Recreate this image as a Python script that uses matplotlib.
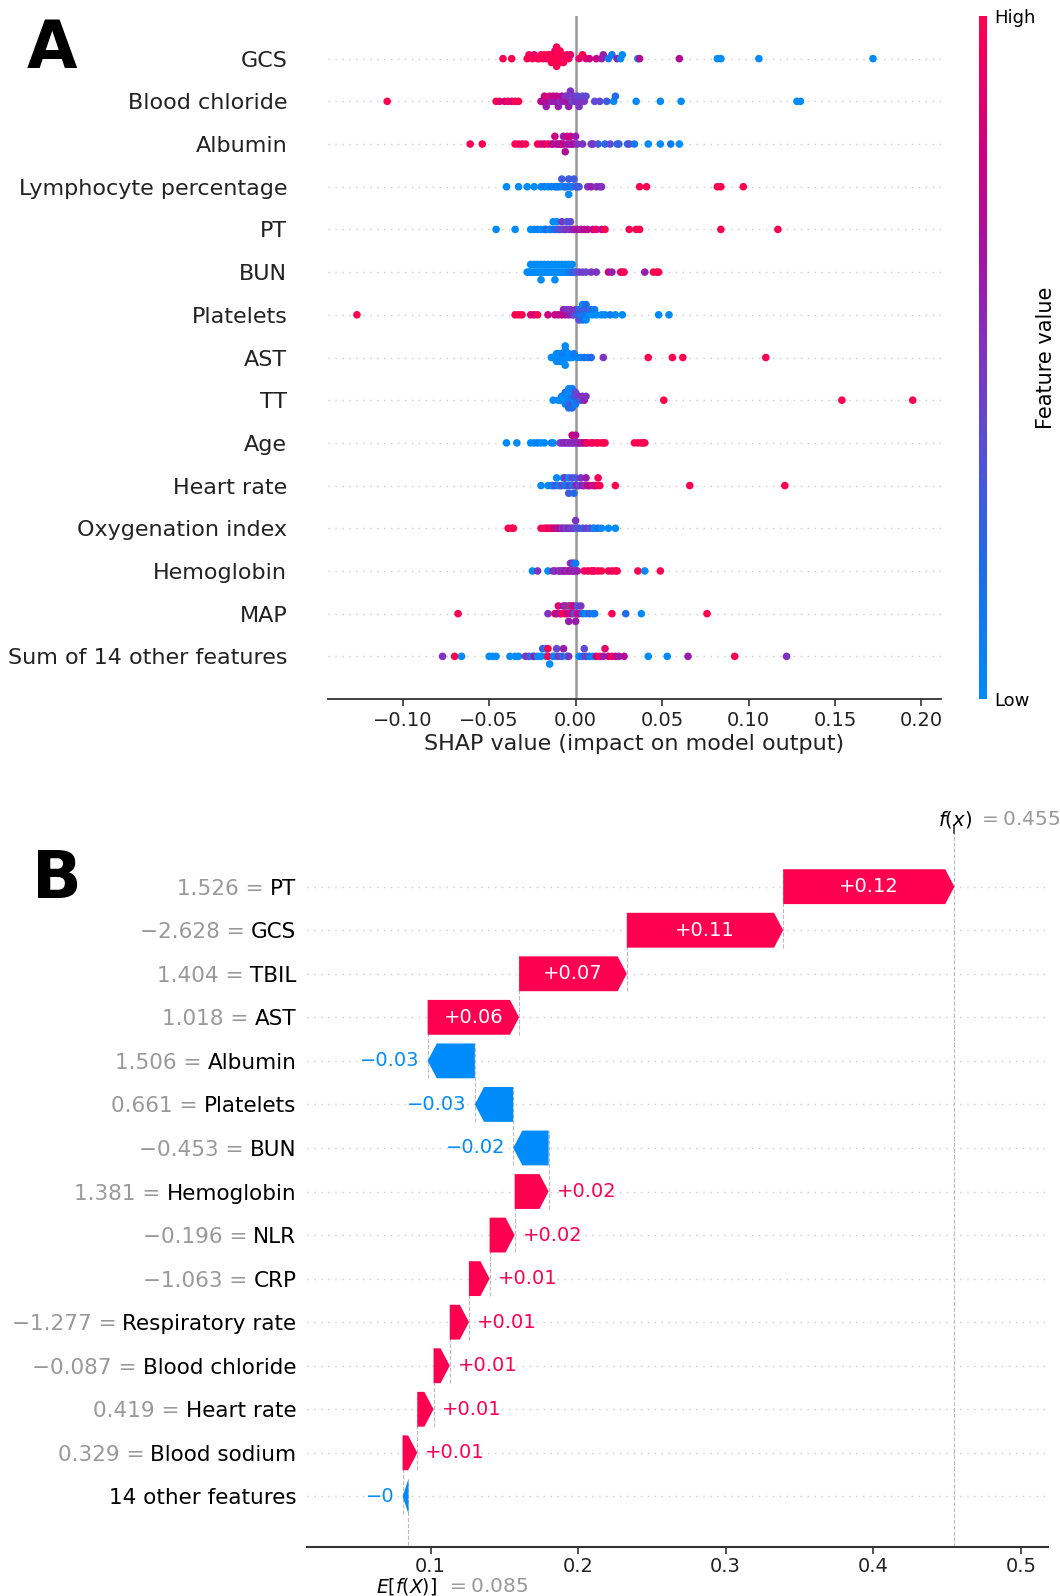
import re
import numpy as np
import matplotlib
matplotlib.use("Agg")
import matplotlib.pyplot as plt
import matplotlib.transforms as mtransforms
from matplotlib.colors import LinearSegmentedColormap
from matplotlib.patches import Polygon

# ---------------- panel A data: (shap value, feature value 0=low 1=high) ----------------
features_a = ["GCS", "Blood chloride", "Albumin", "Lymphocyte percentage", "PT", "BUN",
              "Platelets", "AST", "TT", "Age", "Heart rate", "Oxygenation index",
              "Hemoglobin", "MAP", "Sum of 14 other features"]

gcs_pts = [(-0.042, 1), (-0.037, 1), (-0.028, 1), (-0.027, 1), (-0.025, 1), (-0.024, .9), (-0.022, 1),
           (-0.021, 1), (-0.020, 1), (-0.019, 1), (-0.018, 1), (-0.017, .9), (-0.016, 1), (-0.015, 1),
           (-0.015, 1), (-0.014, 1), (-0.013, 1), (-0.013, 1), (-0.012, 1), (-0.012, .9), (-0.011, 1),
           (-0.011, 1), (-0.010, 1), (-0.010, 1), (-0.009, 1), (-0.009, 1), (-0.008, 1), (-0.008, 1),
           (-0.007, 1), (-0.006, .9), (-0.005, 1), (-0.004, 1), (-0.003, .9), (0.002, .9), (0.004, 1),
           (0.006, .9), (0.008, .8), (0.012, .8), (0.015, .6), (0.016, .6), (0.019, .1), (0.021, .1),
           (0.024, .6), (0.026, 0), (0.027, 0), (0.036, 0), (0.037, .7), (0.060, .7), (0.082, 0),
           (0.084, 0), (0.106, 0), (0.172, 0)]
chloride_pts = [(-0.109, 1), (-0.046, 1), (-0.044, .9), (-0.041, .8), (-0.039, 1), (-0.037, .8),
                (-0.035, 1), (-0.033, 1), (-0.020, .8), (-0.019, .7), (-0.018, .8), (-0.017, .6),
                (-0.016, .7), (-0.015, .9), (-0.014, .6), (-0.013, .7), (-0.012, .6), (-0.011, .8),
                (-0.010, .6), (-0.009, .5), (-0.008, .7), (-0.007, .6), (-0.006, .5), (-0.005, .7),
                (-0.005, .5), (-0.004, .6), (-0.003, .5), (-0.002, .4), (-0.001, .5), (0.000, .5),
                (0.001, .4), (0.002, .5), (0.003, .5), (0.004, .4), (0.005, .5), (0.006, .4),
                (0.011, .4), (0.014, .4), (0.018, .3), (0.022, 0), (0.023, .2), (0.035, 0),
                (0.049, 0), (0.061, 0), (0.128, 0), (0.130, 0)]
albumin_pts = [(-0.061, 1), (-0.054, 1), (-0.035, 1), (-0.033, 1), (-0.031, .9), (-0.029, 1),
               (-0.022, 1), (-0.020, .9), (-0.018, .8), (-0.016, 1), (-0.014, .8), (-0.013, .7),
               (-0.012, .8), (-0.011, .7), (-0.010, .8), (-0.009, .6), (-0.008, .7), (-0.007, .8),
               (-0.007, .6), (-0.006, .7), (-0.005, .6), (-0.005, .8), (-0.004, .7), (-0.003, .6),
               (-0.003, .8), (-0.002, .6), (-0.001, .7), (0.000, .6), (0.001, .5), (0.004, .5),
               (0.009, .4), (0.010, .5), (0.013, .3), (0.017, .2), (0.020, .4), (0.024, .1),
               (0.025, .3), (0.030, .2), (0.031, .4), (0.034, .1), (0.042, 0), (0.049, 0),
               (0.055, .1), (0.060, 0)]
lymph_pts = [(-0.040, 0), (-0.033, 0), (-0.028, 0), (-0.024, 0), (-0.020, 0), (-0.018, .1),
             (-0.016, 0), (-0.014, .1), (-0.012, 0), (-0.011, .2), (-0.010, 0), (-0.009, .1),
             (-0.008, .3), (-0.007, 0), (-0.006, .2), (-0.005, .1), (-0.004, .3), (-0.004, 0),
             (-0.003, .2), (-0.002, .1), (-0.001, .3), (0.000, .2), (0.001, .4), (0.002, .3),
             (0.007, .5), (0.009, .6), (0.012, .5), (0.014, .6), (0.015, .5), (0.037, 1),
             (0.041, 1), (0.082, 1), (0.084, 1), (0.097, 1)]
pt_pts = [(-0.046, 0), (-0.035, 0), (-0.026, 0), (-0.024, 0), (-0.022, .1), (-0.020, 0), (-0.018, 0),
          (-0.017, .2), (-0.015, 0), (-0.014, .1), (-0.013, 0), (-0.012, .2), (-0.011, 0), (-0.010, .3),
          (-0.009, .4), (-0.008, .5), (-0.007, .4), (-0.006, .5), (-0.005, .3), (-0.004, .5),
          (-0.003, .4), (-0.002, .5), (-0.001, .6), (0.001, .7), (0.003, .6), (0.005, .8), (0.007, .7),
          (0.010, .8), (0.012, .9), (0.015, .7), (0.017, 1), (0.031, 1), (0.035, 1), (0.037, 1),
          (0.084, 1), (0.117, 1)]
bun_pts = [(-0.028, 0), (-0.027, 0), (-0.026, 0), (-0.026, 0), (-0.025, 0), (-0.024, 0), (-0.024, 0),
           (-0.023, 0), (-0.022, 0), (-0.022, 0), (-0.021, 0), (-0.020, 0), (-0.020, 0), (-0.020, 0),
           (-0.019, 0), (-0.018, 0), (-0.018, 0), (-0.017, 0), (-0.016, 0), (-0.016, 0), (-0.015, 0),
           (-0.014, 0), (-0.014, 0), (-0.013, 0), (-0.012, 0), (-0.012, 0), (-0.012, 0), (-0.011, 0),
           (-0.010, 0), (-0.010, 0), (-0.009, 0), (-0.008, 0), (-0.008, 0), (-0.007, 0), (-0.006, 0),
           (-0.006, 0), (-0.005, 0), (-0.004, .1), (-0.004, 0), (-0.003, .1), (-0.002, .2),
           (-0.002, 0), (-0.001, .3), (0.000, .3), (0.002, .4), (0.004, .5), (0.006, .4), (0.009, .5),
           (0.012, .5), (0.019, .8), (0.021, .6), (0.026, 1), (0.027, .8), (0.028, 1), (0.040, .6),
           (0.045, 1), (0.047, 1), (0.048, 1)]
platelet_pts = [(-0.1265, 1), (-0.035, 1), (-0.033, 1), (-0.031, 1), (-0.026, .9), (-0.024, .8),
                (-0.022, 1), (-0.016, .8), (-0.012, .8), (-0.010, .7), (-0.008, .8), (-0.007, .6),
                (-0.006, .7), (-0.005, .5), (-0.004, .6), (-0.003, .5), (-0.002, .6), (-0.001, .4),
                (0.000, .5), (0.001, .3), (0.002, .2), (0.002, .4), (0.003, .1), (0.003, .3),
                (0.004, .2), (0.004, 0), (0.005, .1), (0.005, .3), (0.006, 0), (0.006, .2),
                (0.007, .1), (0.008, 0), (0.009, .2), (0.010, 0), (0.011, .1), (0.012, 0),
                (0.015, 0), (0.017, 0), (0.020, .1), (0.023, 0), (0.027, 0), (0.048, 0), (0.054, 0)]
ast_pts = [(-0.014, 0), (-0.013, 0), (-0.012, 0), (-0.011, 0), (-0.011, 0), (-0.010, 0), (-0.010, 0),
           (-0.009, 0), (-0.009, 0), (-0.009, .1), (-0.008, 0), (-0.008, 0), (-0.008, 0), (-0.007, 0),
           (-0.007, .1), (-0.007, 0), (-0.006, 0), (-0.006, 0), (-0.006, 0), (-0.005, 0), (-0.005, .1),
           (-0.004, 0), (-0.004, 0), (-0.003, 0), (-0.002, 0), (-0.001, .1), (0.001, .1), (0.003, 0),
           (0.005, .2), (0.007, .1), (0.009, .2), (0.016, .5), (0.042, 1), (0.056, 1), (0.062, 1),
           (0.110, 1)]
tt_pts = [(-0.013, 0), (-0.010, 0), (-0.009, 0), (-0.008, .1), (-0.007, 0), (-0.007, 0), (-0.006, 0),
          (-0.006, .2), (-0.005, 0), (-0.005, 0), (-0.005, .1), (-0.004, 0), (-0.004, .2), (-0.004, 0),
          (-0.003, 0), (-0.003, .1), (-0.003, .3), (-0.002, 0), (-0.002, .2), (-0.002, .1),
          (-0.001, 0), (-0.001, .3), (0.000, .1), (0.000, .4), (0.001, .2), (0.002, .5), (0.003, .3),
          (0.004, .5), (0.005, .6), (0.006, .5), (0.051, 1), (0.154, 1), (0.195, 1)]
age_pts = [(-0.040, 0), (-0.034, 0), (-0.026, 0), (-0.024, 0), (-0.022, .1), (-0.020, 0), (-0.018, 0),
           (-0.014, .1), (-0.013, 0), (-0.009, .5), (-0.008, .4), (-0.007, .6), (-0.006, .5),
           (-0.005, .7), (-0.004, .4), (-0.003, .6), (-0.002, .5), (-0.002, .8), (-0.001, .6),
           (0.000, .5), (0.000, .7), (0.001, .6), (0.002, .5), (0.003, .7), (0.004, .6), (0.005, .8),
           (0.006, .7), (0.007, 1), (0.009, 1), (0.010, .9), (0.012, 1), (0.013, 1), (0.015, 1),
           (0.016, 1), (0.017, 1), (0.034, 1), (0.036, 1), (0.038, 1), (0.039, 1), (0.040, 1)]
hr_pts = [(-0.020, 0), (-0.016, 0), (-0.014, .1), (-0.013, 0), (-0.012, .3), (-0.011, 0), (-0.010, .2),
          (-0.009, 0), (-0.008, .4), (-0.007, .1), (-0.006, 0), (-0.006, .5), (-0.005, .2), (-0.004, 0),
          (-0.004, .3), (-0.003, .5), (-0.002, .1), (-0.002, .4), (-0.001, .2), (0.000, .5), (0.000, .3),
          (0.001, .6), (0.002, .4), (0.003, .5), (0.004, .7), (0.005, .5), (0.006, .6), (0.007, .8),
          (0.008, .7), (0.010, 1), (0.011, .6), (0.012, .9), (0.013, 1), (0.014, 1), (0.023, 1),
          (0.066, 1), (0.121, 1)]
oxy_pts = [(-0.039, 1), (-0.037, 1), (-0.036, 1), (-0.020, 1), (-0.018, 1), (-0.017, .9), (-0.016, 1),
           (-0.015, .8), (-0.014, 1), (-0.013, .8), (-0.012, .9), (-0.011, .7), (-0.010, .6),
           (-0.009, .8), (-0.008, .5), (-0.007, .6), (-0.006, .5), (-0.005, .4), (-0.004, .6),
           (-0.003, .5), (-0.002, .4), (-0.001, .5), (0.000, .4), (0.000, .5), (0.001, .3), (0.002, .4),
           (0.004, .2), (0.006, .5), (0.008, .3), (0.010, .4), (0.011, 0), (0.013, .2), (0.015, 0),
           (0.019, 0), (0.023, 0)]
hgb_pts = [(-0.025, 0), (-0.022, .5), (-0.016, 0), (-0.013, .6), (-0.012, .5), (-0.010, .7),
           (-0.009, .4), (-0.008, .6), (-0.007, .5), (-0.006, .8), (-0.005, .5), (-0.004, .6),
           (-0.003, .7), (-0.003, .4), (-0.002, .5), (-0.002, .6), (-0.001, .7), (-0.001, .3),
           (0.000, .5), (0.000, .1), (0.001, .6), (0.005, 1), (0.007, .9), (0.009, 1), (0.010, 1),
           (0.011, .9), (0.013, 1), (0.015, 1), (0.019, 1), (0.021, .9), (0.023, 1), (0.024, 1),
           (0.036, 1), (0.040, 0), (0.049, 1)]
map_pts = [(-0.068, 1), (-0.016, .5), (-0.012, 1), (-0.011, .7), (-0.010, .9), (-0.009, .6), (-0.008, 1),
           (-0.007, .7), (-0.006, .9), (-0.006, .5), (-0.005, .8), (-0.004, 1), (-0.004, .6),
           (-0.003, .9), (-0.003, .2), (-0.002, .7), (-0.002, 1), (-0.001, .4), (-0.001, .8),
           (0.000, .6), (0.001, .9), (0.001, .3), (0.002, .7), (0.003, .5), (0.004, .2), (0.006, 0),
           (0.008, .3), (0.010, 0), (0.011, .1), (0.021, 1), (0.029, .2), (0.038, 0), (0.076, 1)]
other_pts = [(-0.077, .5), (-0.070, 1), (-0.066, 0), (-0.050, 0), (-0.048, 0), (-0.046, 0), (-0.038, 0),
             (-0.035, 0), (-0.033, 0), (-0.029, .5), (-0.027, .4), (-0.025, 0), (-0.024, .6),
             (-0.022, 0), (-0.020, 0), (-0.019, .3), (-0.017, 0), (-0.017, 0), (-0.016, 1), (-0.016, 1),
             (-0.015, 0), (-0.013, .3), (-0.012, 0), (-0.011, .4), (-0.010, .5), (-0.008, .3),
             (-0.007, .6), (-0.005, 0), (-0.004, .5), (0.002, 0), (0.004, .2), (0.005, .4), (0.006, .5),
             (0.008, .1), (0.010, 0), (0.012, .8), (0.014, 1), (0.016, .6), (0.017, .9), (0.019, .7),
             (0.021, 1), (0.023, .8), (0.025, .6), (0.028, .7), (0.042, 0), (0.053, 0), (0.065, .6),
             (0.092, 1), (0.122, .5)]

rows_a = [gcs_pts, chloride_pts, albumin_pts, lymph_pts, pt_pts, bun_pts, platelet_pts, ast_pts,
          tt_pts, age_pts, hr_pts, oxy_pts, hgb_pts, map_pts, other_pts]
xticks_a = [-0.10, -0.05, 0.00, 0.05, 0.10, 0.15, 0.20]

# ---------------- panel B data (waterfall) ----------------
features_b = ["PT", "GCS", "TBIL", "AST", "Albumin", "Platelets", "BUN", "Hemoglobin", "NLR", "CRP",
              "Respiratory rate", "Blood chloride", "Heart rate", "Blood sodium", "14 other features"]
values_b = ["1.526", "-2.628", "1.404", "1.018", "1.506", "0.661", "-0.453", "1.381", "-0.196",
            "-1.063", "-1.277", "-0.087", "0.419", "0.329", ""]
shap_b = [0.116, 0.106, 0.073, 0.062, -0.032, -0.026, -0.024, 0.023, 0.017, 0.014, 0.013, 0.011,
          0.011, 0.010, -0.004]
base_value = 0.085
xticks_b = [0.1, 0.2, 0.3, 0.4, 0.5]

RED = "#ff0051"
BLUE = "#008bfb"
red_blue = LinearSegmentedColormap.from_list(
    "red_blue", [(0, BLUE), (0.2, "#1f6be9"), (0.38, "#5a4ed6"), (0.52, "#8330c0"),
                 (0.64, "#a214a6"), (0.8, "#cc0080"), (1, RED)])


def minus(s):
    return s.replace("-", "\u2212")


def swarm(vals, row_height=0.4, nbins=100):
    vals = np.asarray(vals, dtype=float)
    quant = np.round(nbins * (vals - vals.min()) / (vals.max() - vals.min() + 1e-8))
    inds = np.argsort(quant, kind="stable")
    ys = np.zeros(len(vals))
    layer = 0
    last = -1
    for ind in inds:
        if quant[ind] != last:
            layer = 0
        ys[ind] = np.ceil(layer / 2) * ((layer % 2) * 2 - 1)
        layer += 1
        last = quant[ind]
    ys *= 0.9 * (row_height / np.max(ys + 1))
    return ys


fig = plt.figure(figsize=(10.6, 15.96), dpi=100)

# ================= panel A =================
ax = fig.add_axes([0.309, 0.562, 0.579, 0.428])
n = len(features_a)
for i, pts in enumerate(rows_a):
    pos = n - 1 - i
    sv = [p[0] for p in pts]
    fv = [p[1] for p in pts]
    ax.axhline(pos, color="#cccccc", lw=1, dashes=(1, 4), zorder=-1)
    ax.scatter(sv, pos + swarm(sv), c=fv, cmap=red_blue, vmin=0, vmax=1, s=30,
               linewidths=0, zorder=3)
ax.axvline(0, color="#999999", lw=1.8, zorder=1)
ax.set_xlim(-0.1435, 0.2115)
ax.set_ylim(-1, n)
ax.set_yticks(range(n))
ax.set_yticklabels(features_a[::-1], fontsize=16, color="#222222")
ax.tick_params(axis="y", length=0, pad=29)
ax.set_xticks(xticks_a)
ax.set_xticklabels([minus("%.2f" % t) for t in xticks_a], fontsize=14, color="#222222")
ax.tick_params(axis="x", length=5, width=1.2, color="#333333")
ax.set_xlabel("SHAP value (impact on model output)", fontsize=16, color="#222222", labelpad=3)
for s in ["top", "right", "left"]:
    ax.spines[s].set_visible(False)
ax.spines["bottom"].set_color("#333333")
ax.spines["bottom"].set_linewidth(1.3)

cax = fig.add_axes([0.9236, 0.562, 0.008, 0.428])
cb = fig.colorbar(plt.cm.ScalarMappable(cmap=red_blue, norm=plt.Normalize(0, 1)), cax=cax)
cb.outline.set_visible(False)
cb.set_ticks([0, 1])
cb.set_ticklabels(["Low", "High"])
cb.ax.tick_params(length=0, labelsize=13, pad=5)
cb.set_label("Feature value", fontsize=15, labelpad=0)

fig.text(0.0255, 0.9574, "A", fontsize=47, fontweight="bold", ha="left", va="baseline")

# ================= panel B =================
bx = fig.add_axes([0.290, 0.0305, 0.699, 0.4475])
m = len(features_b)
bar_w = 0.8
head = 0.0062
fx = base_value + sum(shap_b)
bx.set_xlim(0.0165, 0.5187)
bx.set_ylim(-1.17, m - 1 + 1.23)

loc = fx
for i, v in enumerate(shap_b):
    row = m - 1 - i
    bx.axhline(row, color="#cccccc", lw=1, dashes=(1, 4), zorder=-2)
    start = loc - v
    end = loc
    hl = min(abs(v), head)
    d = 1 if v >= 0 else -1
    y0, y1 = row - bar_w / 2, row + bar_w / 2
    poly = [(start, y0), (end - d * hl, y0), (end, row), (end - d * hl, y1), (start, y1)]
    col = RED if v >= 0 else BLUE
    bx.add_patch(Polygon(poly, closed=True, facecolor=col, edgecolor="none", zorder=3))
    # dashed connector at the bar start
    bx.plot([start, start], [row - 1 - 0.4, row + 0.4], color="#bbbbbb", ls="--", lw=0.8, zorder=-1)
    txt = minus(re.sub(r"\.?0+$", "", "%+0.2f" % v))
    if abs(v) > 0.05:
        bx.text((start + end) / 2, row, txt, ha="center", va="center", color="white",
                fontsize=14, zorder=4)
    else:
        off = mtransforms.offset_copy(bx.transData, fig=fig, x=d * 8, y=0, units="dots")
        bx.text(end, row, txt, ha="left" if v >= 0 else "right",
                va="center", color=col, fontsize=14, transform=off, zorder=4)
    loc = start

bx.axvline(fx, color="#bbbbbb", ls="--", lw=0.8, zorder=-1)

pos_b = list(range(m - 1, -1, -1))
bx.set_yticks(pos_b)
bx.set_yticklabels(features_b, fontsize=15.5, color="black")
bx.tick_params(axis="y", length=0, pad=8)
bx.set_xticks(xticks_b)
bx.set_xticklabels(["%.1f" % t for t in xticks_b], fontsize=14, color="#222222")
bx.tick_params(axis="x", length=5, width=1.2, color="#333333", pad=2)
for s in ["top", "right", "left"]:
    bx.spines[s].set_visible(False)
bx.spines["bottom"].set_color("#333333")
bx.spines["bottom"].set_linewidth(1.5)

# gray feature values in front of the names
fig.canvas.draw()
renderer = fig.canvas.get_renderer()
W = fig.get_figwidth() * fig.dpi
ytr = mtransforms.blended_transform_factory(fig.transFigure, bx.transData)
for lab, val, row in zip(bx.get_yticklabels(), values_b, pos_b):
    if not val:
        continue
    bb = lab.get_window_extent(renderer)
    bx.text((bb.x0 - 6) / W, row, minus(val) + " =", ha="right", va="center_baseline",
            fontsize=15.5, color="#999999", transform=ytr, clip_on=False)

# f(x) and E[f(X)] annotations
tr = mtransforms.blended_transform_factory(bx.transData, bx.transAxes)
bx.annotate("$f(x)$", xy=(fx, 1), xycoords=tr, xytext=(1, 14), textcoords="offset pixels",
            ha="center", va="center", fontsize=14, color="black")
bx.annotate("$= %.3f$" % fx, xy=(fx, 1), xycoords=tr, xytext=(24, 14), textcoords="offset pixels",
            ha="left", va="center", fontsize=14.5, color="#999999")
bx.plot([fx, fx], [1, 1.012], transform=tr, color="#333333", lw=1.2, clip_on=False)
bx.annotate("$E[f(X)]$", xy=(base_value, 0), xycoords=tr, xytext=(-2, -39), textcoords="offset pixels",
            ha="center", va="center", fontsize=13.5, color="black")
bx.annotate("$= %.3f$" % base_value, xy=(base_value, 0), xycoords=tr, xytext=(38, -39),
            textcoords="offset pixels", ha="left", va="center", fontsize=14.5, color="#999999")

fig.text(0.030, 0.4373, "B", fontsize=47, fontweight="bold", ha="left", va="baseline")

fig.savefig("out.png", dpi=100)
